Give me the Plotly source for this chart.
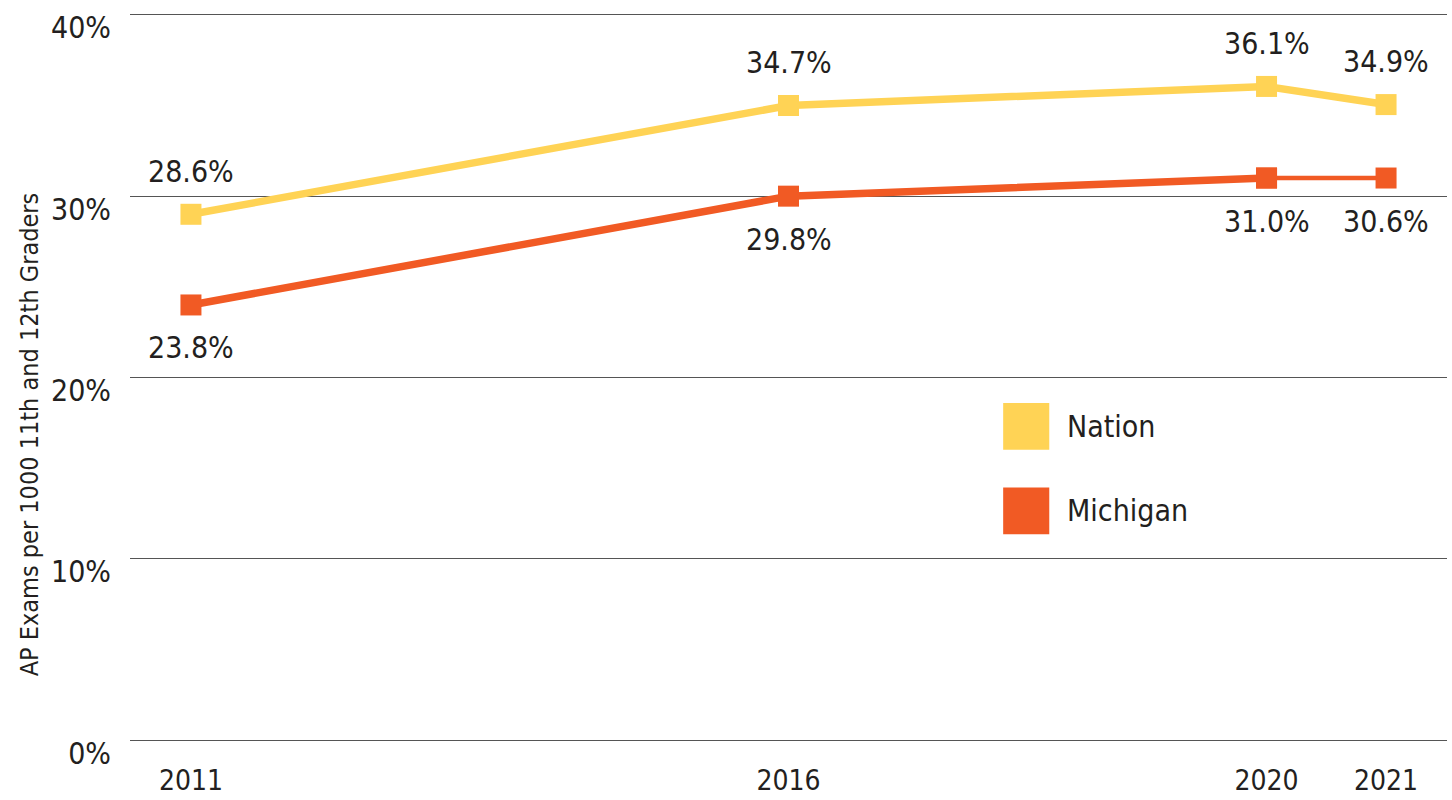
import plotly.graph_objects as go

years = [2011, 2016, 2020, 2021]
nation_values = [29.0, 35.0, 36.05, 35.05]
michigan_values = [24.0, 30.0, 31.0, 31.0]
nation_labels = ["28.6%", "34.7%", "36.1%", "34.9%"]
michigan_labels = ["23.8%", "29.8%", "31.0%", "30.6%"]
y_ticks = [0, 10, 20, 30, 40]
y_tick_labels = ["0%", "10%", "20%", "30%", "40%"]
series_names = ["Nation", "Michigan"]

NATION = "#FFD355"
MICH = "#F15A24"
FONT = "DejaVu Sans Condensed, Liberation Sans Narrow, sans-serif"
TXT = "#231F20"

fig = go.Figure()
fig.add_trace(go.Scatter(x=years, y=nation_values, mode="lines+markers",
                         line=dict(color=NATION, width=7.5),
                         marker=dict(symbol="square", size=21, color=NATION),
                         showlegend=False, hoverinfo="skip"))
fig.add_trace(go.Scatter(x=years[:3], y=michigan_values[:3], mode="lines+markers",
                         line=dict(color=MICH, width=7.5),
                         marker=dict(symbol="square", size=21, color=MICH),
                         showlegend=False, hoverinfo="skip"))
fig.add_trace(go.Scatter(x=years[2:], y=michigan_values[2:], mode="lines+markers",
                         line=dict(color=MICH, width=4.5),
                         marker=dict(symbol="square", size=21, color=MICH),
                         showlegend=False, hoverinfo="skip"))

ann = []
for x, y, t in zip(years, nation_values, nation_labels):
    ann.append(dict(x=x, y=y, text=t, showarrow=False, yshift=43,
                    font=dict(family=FONT, size=30, color=TXT)))
for x, y, t in zip(years, michigan_values, michigan_labels):
    ann.append(dict(x=x, y=y, text=t, showarrow=False, yshift=-43,
                    font=dict(family=FONT, size=30, color=TXT)))

# legend
shapes = []
for i, (name, col) in enumerate(zip(series_names, [NATION, MICH])):
    y0 = 0.401 - i * 0.116
    shapes.append(dict(type="rect", xref="paper", yref="paper",
                       x0=0.663, x1=0.698, y0=y0, y1=y0 + 0.064,
                       fillcolor=col, line=dict(width=0)))
    ann.append(dict(xref="paper", yref="paper", x=0.710, y=y0 + 0.032,
                    text=name, showarrow=False, xanchor="left", yanchor="middle",
                    font=dict(family=FONT, size=30, color=TXT)))

ann.append(dict(xref="paper", yref="paper", x=0, xshift=-101, y=0.422,
                xanchor="center", yanchor="middle",
                text="AP Exams per 1000 11th and 12th Graders", textangle=-90,
                showarrow=False, font=dict(family=FONT, size=25, color=TXT)))

fig.update_layout(
    width=1452, height=800,
    margin=dict(l=130, r=5, t=13, b=58, autoexpand=False),
    plot_bgcolor="white", paper_bgcolor="white",
    shapes=shapes, annotations=ann,
    font=dict(family=FONT, color=TXT),
)
fig.update_xaxes(range=[2010.49, 2021.51], tickvals=years, ticktext=[str(y) for y in years],
                 showgrid=False, zeroline=False, showline=False,
                 ticks="outside", ticklen=13, tickcolor="rgba(0,0,0,0)",
                 tickfont=dict(family=FONT, size=28, color=TXT))
fig.update_yaxes(range=[-0.1, 40.1], tickvals=y_ticks, ticktext=y_tick_labels,
                 showgrid=True, gridcolor="#555555", gridwidth=1.3,
                 zeroline=False, showline=False,
                 ticks="outside", ticklen=12, tickcolor="rgba(0,0,0,0)",
                 ticklabelshift=13,
                 tickfont=dict(family=FONT, size=30, color=TXT))

fig.write_html("out.html", config={"displayModeBar": False},
               post_script="document.body.style.margin='0';document.body.style.overflow='hidden';")
